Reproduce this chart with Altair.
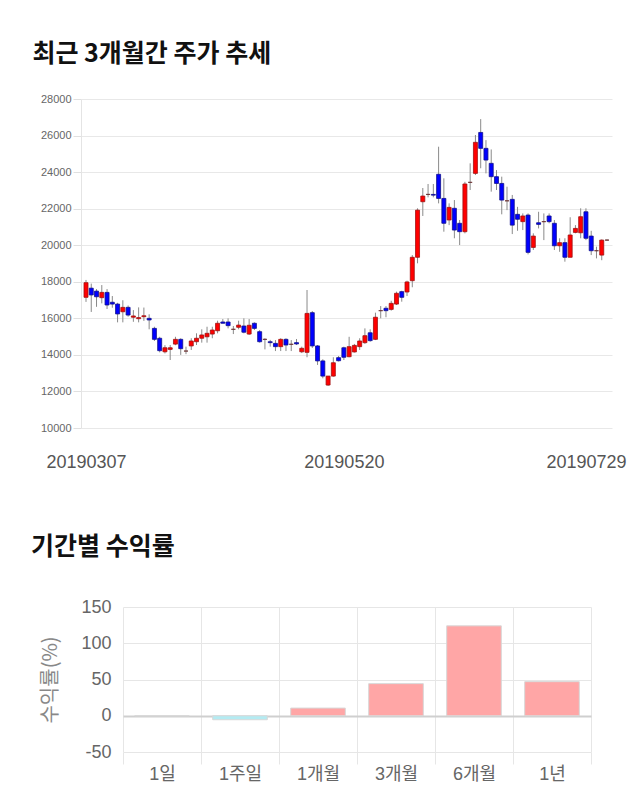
import altair as alt
import pandas as pd

# ---------------- candlestick data (index = trading day) ----------------
opens = [17150, 17650, 17490, 17130, 17420, 16880, 16780, 16360, 16600, 16060,
         15980, 16090, 16000, 15450, 14910, 14170, 14300, 14590, 14850, 14210,
         14490, 14720, 14910, 14990, 15140, 15320, 15800, 15800, 15400, 15510,
         15580, 15140, 15730, 15270, 14850, 14720, 14630, 14450, 14850, 14580,
         14670, 14170, 14140, 16310, 14490, 13670, 12350, 12840, 13850, 14390,
         13900, 14160, 14450, 14670, 15210, 14850, 16420, 16550, 16490, 16780,
         17460, 17440, 18060, 19340, 22380, 22780, 22780, 23880, 22560, 21380,
         22020, 21200, 20740, 23440, 23930, 26170, 25300, 24480, 23750, 23380,
         22430, 22510, 21690, 21290, 21650, 19880, 21230, 21290, 21600, 21200,
         19970, 20140, 19340, 20700, 20680, 21830, 20500, 19700, 19460, 20280]
highs = [18100, 17900, 17600, 17820, 17600, 17220, 16850, 16990, 16700, 16450,
         16600, 16590, 16220, 15540, 14990, 14530, 14540, 14990, 14910, 14450,
         14910, 15180, 15400, 15540, 15540, 15870, 15960, 16000, 15580, 15870,
         16000, 15960, 15780, 15360, 14910, 14820, 14810, 14910, 14910, 14810,
         14870, 14450, 17550, 16400, 14540, 13760, 12840, 13870, 13940, 14450,
         14990, 14600, 14910, 15450, 15400, 16310, 16670, 16670, 16960, 17460,
         17510, 18060, 19460, 22020, 23130, 23350, 23350, 25390, 23660, 22290,
         22470, 21380, 23470, 24480, 26030, 26900, 25750, 25240, 24110, 23750,
         23200, 22750, 22100, 21740, 21740, 20650, 21830, 21740, 21740, 21380,
         20380, 20380, 21530, 21100, 22020, 22020, 20790, 19920, 20320, 20320]
lows = [16900, 16350, 16630, 16820, 16510, 16580, 15780, 15780, 16090, 15810,
        15780, 15860, 15400, 14760, 14140, 14080, 13720, 14530, 14000, 14040,
        14270, 14540, 14670, 14670, 14910, 15180, 15730, 15450, 15140, 15400,
        15180, 15090, 15360, 14670, 14300, 14450, 14210, 14210, 14210, 14210,
        14540, 14100, 13870, 14380, 13450, 12720, 12300, 12810, 13640, 13720,
        13870, 14130, 14270, 14600, 14720, 14810, 16000, 16060, 16420, 16730,
        16910, 17220, 17700, 19010, 21600, 22620, 22620, 22290, 20740, 21100,
        20380, 20010, 20650, 23020, 23840, 24210, 23930, 22930, 23020, 21690,
        21920, 20610, 20790, 20830, 19500, 19740, 20920, 20280, 21200, 19740,
        19640, 19100, 19340, 20650, 20380, 20280, 19460, 19280, 19180, 20240]
closes = [17950, 17280, 17180, 17420, 16730, 16780, 16240, 16600, 16180, 16130,
          16040, 16140, 15910, 14850, 14230, 14390, 14390, 14850, 14340, 14210,
          14760, 14910, 15090, 15180, 15360, 15730, 15730, 15600, 15400, 15630,
          15240, 15620, 15450, 14720, 14850, 14670, 14450, 14850, 14540, 14580,
          14600, 14360, 16270, 14490, 13670, 12840, 12840, 13570, 13680, 13870,
          14450, 14520, 14760, 15050, 14780, 16060, 16420, 16420, 16820, 17370,
          17150, 17990, 19340, 21920, 22690, 22780, 22740, 22560, 21200, 22070,
          20830, 20740, 23350, 23440, 25630, 25300, 24660, 23750, 23380, 22470,
          22430, 21100, 21420, 21600, 19610, 20500, 21140, 21290, 21290, 19970,
          20140, 19340, 20560, 20920, 21560, 20380, 19700, 19700, 20280, 20280]

tick_idx = [0, 49, 95]
tick_labels = ["20190307", "20190520", "20190729"]
y_ticks = [10000, 12000, 14000, 16000, 18000, 20000, 22000, 24000, 26000, 28000]

# ---------------- period return data ----------------
periods = ["1일", "1주일", "1개월", "3개월", "6개월", "1년"]
returns = [0.0, -5.5, 10.6, 44.3, 124.0, 47.0]
ret_ticks = [-50, 0, 50, 100, 150]

# ---------------- build tables ----------------
def direction(o, c):
    if c > o:
        return "up"
    if c < o:
        return "down"
    return "flat"

candles = pd.DataFrame({
    "i": list(range(len(opens))),
    "open": opens, "high": highs, "low": lows, "close": closes,
})
candles["dir"] = [direction(o, c) for o, c in zip(opens, closes)]

rets = pd.DataFrame({"period": periods, "ret": returns})
rets["sign"] = ["neg" if r < 0 else "pos" for r in returns]

label_expr = " : ".join(
    f"datum.value == {v} ? '{t}'" for v, t in zip(tick_idx[:-1], tick_labels[:-1])
) + f" : '{tick_labels[-1]}'"

NUM_FONT = "Liberation Sans, Noto Sans CJK KR"
KR_FONT = "Noto Sans CJK KR"

x_scale = alt.Scale(domain=[0, len(opens) - 1], nice=False, zero=False)
x_axis = alt.Axis(
    values=tick_idx, labelExpr=label_expr, title=None, grid=False,
    domain=False, ticks=False, labelFlush=False, labelFontSize=18,
    labelColor="#555555", labelFont=NUM_FONT, labelPadding=25,
    labelOverlap=False,
)
y_scale = alt.Scale(domain=[10000, 28000], nice=False, zero=False)
y_axis = alt.Axis(
    values=y_ticks, title=None, labelFontSize=11, labelColor="#666666",
    labelFont=NUM_FONT, labelExpr="'' + datum.value", labelOverlap=False,
    gridColor="#e8e8e8", tickColor="#e0e0e0", tickSize=8,
    domainColor="#e4e4e4", labelPadding=2,
)

wicks = alt.Chart(candles).mark_rule(color="#8a8a8a", strokeWidth=1).encode(
    x=alt.X("i:Q", scale=x_scale, axis=x_axis),
    y=alt.Y("low:Q", scale=y_scale, axis=y_axis),
    y2="high:Q",
)
bodies = alt.Chart(candles).mark_bar(size=4, strokeWidth=0.8).encode(
    x=alt.X("i:Q", scale=x_scale, axis=x_axis),
    y=alt.Y("open:Q", scale=y_scale, axis=y_axis),
    y2="close:Q",
    color=alt.Color("dir:N", scale=alt.Scale(domain=["up", "down", "flat"],
                    range=["#ff0000", "#0000ff", "#7a3030"]), legend=None),
    stroke=alt.Stroke("dir:N", scale=alt.Scale(domain=["up", "down", "flat"],
                      range=["#a01010", "#10108a", "#6a3030"]), legend=None),
)

top = alt.layer(wicks, bodies).properties(
    width=531, height=329,
    title=alt.TitleParams("최근 3개월간 주가 추세", anchor="start", fontSize=25,
                          font=KR_FONT, fontWeight="bold", color="#111111",
                          dx=-8, offset=26),
)

# bottom chart: plot origin shared with the top chart, bands shifted right
SHIFT = 42
BW = 468
bars = alt.Chart(rets).mark_bar(
    stroke="#d8d8d8", strokeWidth=1, width=alt.RelativeBandSize(0.7)
).encode(
    x=alt.X(
        "period:N", sort=periods,
        scale=alt.Scale(paddingInner=0, paddingOuter=0,
                        range=[SHIFT, SHIFT + BW]),
        axis=alt.Axis(
            title=None, labelAngle=0, tickBand="extent", grid=True,
            gridColor="#e6e6e6", tickColor="#e6e6e6", tickSize=12,
            domain=False, labelFontSize=18, labelColor="#666666",
            labelFont=NUM_FONT, labelPadding=1,
        ),
    ),
    y=alt.Y(
        "ret:Q", scale=alt.Scale(domain=[-50, 150], nice=False),
        axis=alt.Axis(
            values=ret_ticks, title="수익률(%)", titleFont=KR_FONT,
            titleFontSize=20, titleFontWeight="normal", titleColor="#888888",
            titlePadding=20, labelFontSize=18, labelColor="#666666",
            labelFont=NUM_FONT, labelExpr="'' + datum.value",
            labelOverlap=False, ticks=False, domain=False, labelPadding=12,
            offset=-SHIFT,
            gridColor=alt.condition("datum.value === 0", alt.value("#cfcfcf"),
                                    alt.value("#e6e6e6")),
            gridWidth=alt.condition("datum.value === 0", alt.value(2),
                                    alt.value(1)),
        ),
    ),
    color=alt.Color("sign:N", scale=alt.Scale(domain=["pos", "neg"],
                    range=["#ffa6a6", "#b4ebf2"]), legend=None),
).properties(
    width=SHIFT + BW, height=145,
    title=alt.TitleParams("기간별 수익률", anchor="start", fontSize=25,
                          font=KR_FONT, fontWeight="bold", color="#111111",
                          dx=-10, offset=38),
)

chart = alt.vconcat(top, bars, spacing=64).resolve_scale(
    color="independent", stroke="independent"
).properties(
    padding={"left": 30, "top": 42, "right": 5, "bottom": 5},
    background="white",
).configure_view(stroke=None)

chart.save("out.html", embed_options={"renderer": "svg", "actions": False})
